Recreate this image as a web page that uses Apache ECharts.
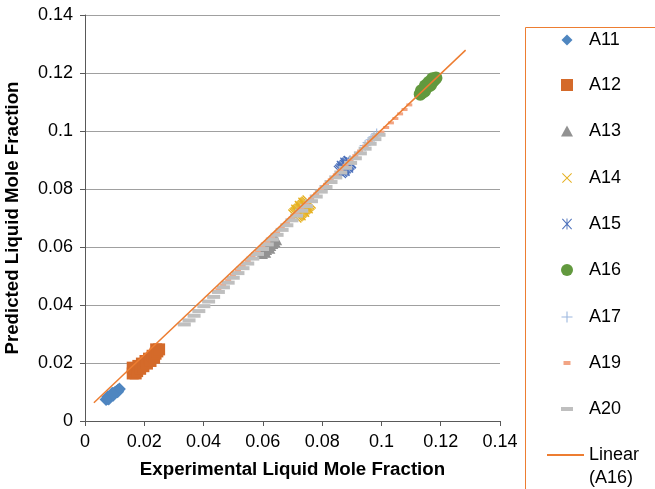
<!DOCTYPE html>
<html>
<head>
<meta charset="utf-8">
<script src="https://cdn.jsdelivr.net/npm/echarts@6/dist/echarts.min.js"></script>
<style>
html,body{margin:0;padding:0;background:#fff;}
#chart{width:655px;height:489px;}
</style>
</head>
<body>
<div id="chart"></div>
<script>
// ---- data ----
var xTicks = [0, 0.02, 0.04, 0.06, 0.08, 0.1, 0.12, 0.14];
var A11 = [[0.0071,0.0074],[0.0076,0.0078],[0.0081,0.0082],[0.0086,0.0086],[0.0091,0.0090],[0.0096,0.0094],[0.0101,0.0098],[0.0106,0.0102],[0.0111,0.0106],[0.0116,0.0110],[0.0080,0.0076],[0.0095,0.0089],[0.0110,0.0101],[0.0077,0.0084],[0.0092,0.0096]];
var A12 = [[0.0161,0.0164],[0.0161,0.0184],[0.0171,0.0164],[0.0168,0.0180],[0.0176,0.0172],[0.0180,0.0190],[0.0186,0.0180],[0.0192,0.0198],[0.0197,0.0189],[0.0204,0.0207],[0.0209,0.0198],[0.0216,0.0215],[0.0221,0.0207],[0.0228,0.0225],[0.0233,0.0218],[0.0240,0.0247],[0.0238,0.0232],[0.0244,0.0240],[0.0250,0.0247]];
var A13 = [[0.0597,0.0578],[0.0604,0.0584],[0.0611,0.0591],[0.0618,0.0598],[0.0625,0.0605],[0.0632,0.0612],[0.0639,0.0619],[0.0645,0.0625],[0.0608,0.0582],[0.0622,0.0596]];
var A14 = [[0.0708,0.0707],[0.0712,0.0711],[0.0716,0.0715],[0.0720,0.0719],[0.0724,0.0723],[0.0728,0.0727],[0.0732,0.0731],[0.0736,0.0735],[0.0740,0.0739],[0.0744,0.0743],[0.0748,0.0747],[0.0752,0.0751],[0.0756,0.0755],[0.0718,0.0723],[0.0730,0.0736],[0.0742,0.0747],[0.0722,0.0715],[0.0734,0.0727],[0.0746,0.0739]];
var A15 = [[0.0860,0.0859],[0.0864,0.0863],[0.0868,0.0867],[0.0872,0.0871],[0.0876,0.0875],[0.0880,0.0879],[0.0884,0.0883],[0.0888,0.0887],[0.0892,0.0891],[0.0894,0.0893],[0.0870,0.0876],[0.0882,0.0887],[0.0872,0.0866],[0.0884,0.0878]];
var A16 = [[0.1131,0.1127],[0.1137,0.1133],[0.1143,0.1140],[0.1149,0.1147],[0.1156,0.1154],[0.1163,0.1161],[0.1170,0.1168],[0.1177,0.1175],[0.1184,0.1183],[0.1135,0.1139],[0.1148,0.1156],[0.1160,0.1168],[0.1172,0.1180],[0.1145,0.1137],[0.1165,0.1158]];
var A17 = [[0.0945,0.0950],[0.0955,0.0960],[0.0965,0.0970],[0.0975,0.0980],[0.0984,0.0990]];
var A19 = [[0.0450,0.0453],[0.0466,0.0469],[0.0483,0.0486],[0.0499,0.0502],[0.0516,0.0519],[0.0532,0.0535],[0.0549,0.0552],[0.0565,0.0568],[0.0582,0.0585],[0.0598,0.0601],[0.0615,0.0618],[0.0631,0.0634],[0.0648,0.0651],[0.0664,0.0667],[0.0681,0.0684],[0.0697,0.0700],[0.0714,0.0717],[0.0730,0.0733],[0.0747,0.0750],[0.0763,0.0766],[0.0780,0.0783],[0.0796,0.0799],[0.0813,0.0816],[0.0829,0.0832],[0.0846,0.0849],[0.0862,0.0865],[0.0879,0.0882],[0.0895,0.0898],[0.0912,0.0915],[0.0928,0.0931],[0.0945,0.0948],[0.0961,0.0964],[0.0978,0.0981],[0.1000,0.0996],[0.1016,0.1012],[0.1032,0.1028],[0.1047,0.1043],[0.1063,0.1059],[0.1078,0.1074],[0.1094,0.1090]];
var A20 = [[0.0335,0.0333],[0.0351,0.0347],[0.0368,0.0363],[0.0384,0.0379],[0.0401,0.0396],[0.0417,0.0412],[0.0434,0.0428],[0.0450,0.0445],[0.0467,0.0461],[0.0483,0.0477],[0.0500,0.0494],[0.0516,0.0510],[0.0533,0.0527],[0.0549,0.0543],[0.0566,0.0560],[0.0582,0.0576],[0.0599,0.0593],[0.0615,0.0609],[0.0632,0.0626],[0.0648,0.0642],[0.0665,0.0659],[0.0681,0.0675],[0.0698,0.0692],[0.0714,0.0708],[0.0731,0.0725],[0.0747,0.0741],[0.0764,0.0758],[0.0780,0.0774],[0.0797,0.0791],[0.0813,0.0807],[0.0830,0.0824],[0.0846,0.0840],[0.0863,0.0857],[0.0879,0.0873],[0.0896,0.0890],[0.0912,0.0906],[0.0929,0.0923],[0.0945,0.0939],[0.0962,0.0956],[0.0978,0.0972],[0.0992,0.0987]];
var trendA16 = [[0.0030,0.0063],[0.1284,0.1279]];
var seriesNames = ['A11','A12','A13','A14','A15','A16','A17','A19','A20','Linear (A16)'];

// ---- styling ----
var FONT = '"Liberation Sans", Arial, sans-serif';
var colors = {A11:'#4F86C0',A12:'#D46A2A',A13:'#929292',A14:'#E6B120',A15:'#4A6FBA',A16:'#62993E',A17:'#9DB8DF',A19:'#F2A585',A20:'#BFBFBF',trend:'#ED7D31'};
var pathX = 'path://M0,0.7L0.7,0L10,9.3L9.3,10Z M9.3,0L10,0.7L0.7,10L0,9.3Z';
var pathStar = 'path://M0,0.7L0.7,0L10,9.3L9.3,10Z M9.3,0L10,0.7L0.7,10L0,9.3Z M4.55,0L5.45,0L5.45,10L4.55,10Z';
var pathPlus = 'path://M4.5,0L5.5,0L5.5,10L4.5,10Z M0,4.5L10,4.5L10,5.5L0,5.5Z';

var symDefs = {
  A11:{symbol:'diamond', size:[13,13], leg:[11,11]},
  A12:{symbol:'rect', size:[12,12], leg:[12,12]},
  A13:{symbol:'triangle', size:[12,11], leg:[12,11]},
  A14:{symbol:pathX, size:[14,14], leg:[10,10]},
  A15:{symbol:pathStar, size:[13,13], leg:[10,11]},
  A16:{symbol:'circle', size:[13,13], leg:[12,12]},
  A17:{symbol:pathPlus, size:[11,11], leg:[11,11]},
  A19:{symbol:'rect', size:[6,3], leg:[7,4]},
  A20:{symbol:'rect', size:[13,4], leg:[12,4]}
};
var dataMap = {A11:A11,A12:A12,A13:A13,A14:A14,A15:A15,A16:A16,A17:A17,A19:A19,A20:A20};

var series = [];
var legends = [];
var legendCenters = [40, 85, 131, 178, 224, 270, 317, 363, 409];
seriesNames.slice(0,9).forEach(function(n, i){
  var d = symDefs[n];
  series.push({
    name:n, type:'scatter', data:dataMap[n], symbol:d.symbol, symbolSize:d.size,
    itemStyle:{color:colors[n], opacity:1}, z:2+i, silent:true
  });
  var w = d.leg[0], h = d.leg[1];
  legends.push({
    data:[{name:n, icon:d.symbol}], orient:'vertical', padding:0, itemGap:0,
    itemWidth:w, itemHeight:h, symbolKeepAspect:false,
    left: 567 - w/2, top: legendCenters[i] - 10,
    textStyle:{fontFamily:FONT, fontSize:18, color:'#000', lineHeight:20, padding:[0,0,0,17 - w/2]},
    selectedMode:false
  });
});
series.push({
  name:'Linear (A16)', type:'line', data:trendA16, symbol:'none', showSymbol:false,
  lineStyle:{color:colors.trend, width:1.5}, itemStyle:{color:colors.trend}, z:20, silent:true
});
legends.push({
  data:[{name:'Linear (A16)', icon:'rect'}], orient:'vertical', padding:0, itemGap:0,
  itemWidth:37, itemHeight:2, symbolKeepAspect:false,
  left: 547, top: 455 - 34.5,
  formatter: function(){ return ' \nLinear\n(A16)'; },
  textStyle:{fontFamily:FONT, fontSize:18, color:'#000', lineHeight:23},
  selectedMode:false
});

var chart = echarts.init(document.getElementById('chart'), null, {renderer:'canvas'});
chart.setOption({
  animation:false,
  backgroundColor:'#fff',
  grid:{left:85, right:155, top:15, bottom:68, containLabel:false, outerBoundsMode:'none'},
  xAxis:{
    type:'value', min:xTicks[0], max:xTicks[xTicks.length-1], interval:0.02,
    name:'Experimental Liquid Mole Fraction', nameLocation:'middle', nameGap:39,
    nameTextStyle:{fontFamily:FONT, fontSize:18.7, fontWeight:'bold', color:'#000'},
    axisLine:{show:true, onZero:false, lineStyle:{color:'#595959', width:1}},
    axisTick:{show:true, inside:false, length:5, lineStyle:{color:'#595959'}},
    axisLabel:{fontFamily:FONT, fontSize:18, color:'#000', margin:12,
      formatter:function(v){ return String(+v.toFixed(2)); }},
    splitLine:{show:false}
  },
  yAxis:{
    type:'value', min:xTicks[0], max:xTicks[xTicks.length-1], interval:0.02,
    name:'Predicted Liquid Mole Fraction', nameLocation:'middle', nameGap:63,
    nameTextStyle:{fontFamily:FONT, fontSize:18.7, fontWeight:'bold', color:'#000'},
    axisLine:{show:true, onZero:false, lineStyle:{color:'#595959', width:1}},
    axisTick:{show:true, inside:false, length:5, lineStyle:{color:'#595959'}},
    axisLabel:{fontFamily:FONT, fontSize:18, color:'#000', margin:12,
      formatter:function(v){ return String(+v.toFixed(2)); }},
    splitLine:{show:true, lineStyle:{color:'#A0A0A0', width:1}}
  },
  legend:legends,
  graphic:[{type:'rect', shape:{x:525.5, y:27.5, width:200, height:500}, style:{fill:'none', stroke:'#ED7D31', lineWidth:1}, silent:true, z:0}],
  series:series
});
</script>
</body>
</html>
